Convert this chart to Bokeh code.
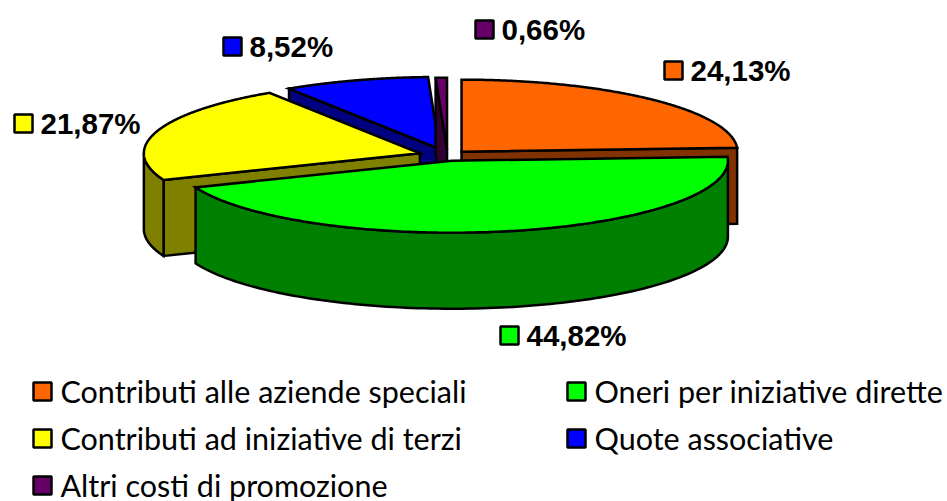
import numpy as np
from bokeh.plotting import figure
from bokeh.models import Range1d
from bokeh.core.properties import value
from bokeh.embed import file_html
from bokeh.resources import INLINE

categories = ["Contributi alle aziende speciali", "Oneri per iniziative dirette",
              "Contributi ad iniziative di terzi", "Quote associative", "Altri costi di promozione"]
values = [24.13, 44.82, 21.87, 8.52, 0.66]
colors = ["#FF6600", "#00FF00", "#FFFF00", "#0000FF", "#660066"]
darks = ["#803300", "#008000", "#808000", "#000080", "#330033"]
explode = [0.074, 0.074, 0.105, 0.095, 0.08]

# layout, in page pixels
W, H = 947, 501
CX, CY, RX, RY, DEPTH = 447, 155, 276, 72, 76
label_pos = [(673, 70), (509, 335), (23, 123), (232, 46), (484, 29)]
legend_pos = [(42, 391), (576, 391), (42, 438), (576, 438), (42, 485)]
draw_order = [3, 4, 0, 2, 1]

p = figure(width=W, height=H, x_range=Range1d(0, W), y_range=Range1d(H, 0),
           output_backend="svg", toolbar_location=None, min_border=0)
p.axis.visible = False
p.grid.visible = False
p.outline_line_color = None
p.background_fill_color = "white"

total = sum(values)
edges = np.cumsum([0] + values) / total * 2 * np.pi


def pt(ax, ay, t):
    return ax + RX * np.sin(t), ay - RY * np.cos(t)


def draw(xs, ys, fill):
    p.patch(list(xs), list(ys), fill_color=fill, line_color="black", line_width=2.5, line_join="miter")


for i in draw_order:
    a0, a1 = edges[i], edges[i + 1]
    mid = (a0 + a1) / 2
    ax = CX + explode[i] * RX * np.sin(mid)
    ay = CY - explode[i] * RY * np.cos(mid)
    for t, visible in ((a0, np.pi < a0 < 2 * np.pi), (a1, 0 < a1 < np.pi)):
        if visible:
            ex, ey = pt(ax, ay, t)
            draw([ax, ex, ex, ax], [ay, ey, ey + DEPTH, ay + DEPTH], darks[i])
    lo, hi = max(a0, np.pi / 2), min(a1, 3 * np.pi / 2)
    if hi > lo:
        th = np.linspace(lo, hi, 120)
        wx, wy = pt(ax, ay, th)
        draw(np.r_[wx, wx[::-1]], np.r_[wy, wy[::-1] + DEPTH], darks[i])
    th = np.linspace(a0, a1, 200)
    tx, ty = pt(ax, ay, th)
    draw(np.r_[ax, tx], np.r_[ay, ty], colors[i])

# percentage labels
for v, c, (x, y) in zip(values, colors, label_pos):
    p.rect([x], [y], width=18, height=18, fill_color=c, line_color="black", line_width=2.5)
    p.text([x + 17], [y], text=[f"{v:.2f}%".replace(".", ",")], text_font=value("Liberation Sans"),
           text_font_style="bold", text_font_size="29.5px", text_baseline="middle", text_align="left",
           text_color="black")

# legend
for name, c, (x, y) in zip(categories, colors, legend_pos):
    p.rect([x], [y], width=18, height=18, fill_color=c, line_color="black", line_width=2.5)
    p.text([x + 18], [y - 1], text=[name], text_font=value("Lato"), text_font_size="30.5px",
           text_baseline="middle", text_align="left", text_color="black")

open("out.html", "w").write(file_html(p, INLINE))
